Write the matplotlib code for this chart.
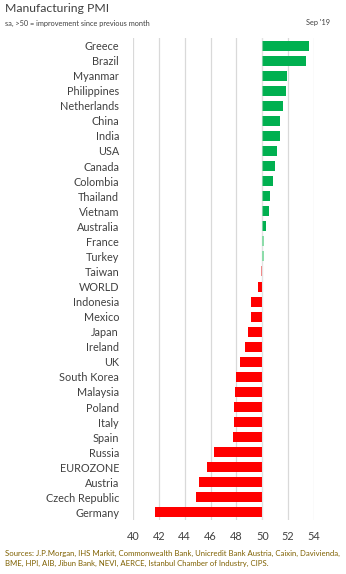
import numpy as np
import matplotlib.pyplot as plt

plt.rcParams['font.family'] = ['Lato', 'DejaVu Sans']

countries = ['Greece', 'Brazil', 'Myanmar', 'Philippines', 'Netherlands', 'China',
             'India', 'USA', 'Canada', 'Colombia', 'Thailand', 'Vietnam', 'Australia',
             'France', 'Turkey', 'Taiwan', 'WORLD', 'Indonesia', 'Mexico', 'Japan',
             'Ireland', 'UK', 'South Korea', 'Malaysia', 'Poland', 'Italy', 'Spain',
             'Russia', 'EUROZONE', 'Austria', 'Czech Republic', 'Germany']
pmi = [53.6, 53.4, 51.9, 51.8, 51.6, 51.4,
       51.4, 51.1, 51.0, 50.8, 50.6, 50.5, 50.3,
       50.15, 50.15, 49.9, 49.7, 49.1, 49.1, 48.9,
       48.7, 48.3, 48.0, 47.9, 47.8, 47.8, 47.7,
       46.3, 45.7, 45.1, 44.9, 41.7]

# the near-50 readings are drawn in pale colours
pale = {'France': '#8ddcaa', 'Turkey': '#8ddcaa', 'Taiwan': '#f08a8a'}

colors = []
for c, v in zip(countries, pmi):
    if c in pale:
        colors.append(pale[c])
    elif v >= 50:
        colors.append('#00b050')
    else:
        colors.append('#ff0000')

n = len(countries)
y = np.arange(n)
vals = np.array(pmi)
is_pale = np.array([c in pale for c in countries])

fig = plt.figure(figsize=(3.46, 5.74), dpi=100)
ax = fig.add_axes([133 / 346, 1 - 520 / 574, 181 / 346, (520 - 38) / 574])

ax.barh(y[~is_pale], vals[~is_pale] - 50, left=50, height=0.66,
        color=np.array(colors)[~is_pale], zorder=2)
ax.axvline(50, color='#eeeeee', lw=0.8, alpha=0.5, zorder=3)
ax.barh(y[is_pale], vals[is_pale] - 50, left=50, height=0.66,
        color=np.array(colors)[is_pale], zorder=4)

ax.set_xlim(40, 54)
ax.set_ylim(n - 0.5, -0.5)
ax.set_xticks(np.arange(40, 55, 2))
ax.set_yticks(y)
ax.set_yticklabels(countries)
ax.grid(axis='x', color='#d9d9d9', lw=0.9, zorder=0)
ax.set_axisbelow(True)
for s in ax.spines.values():
    s.set_visible(False)
ax.tick_params(axis='both', length=0, labelsize=7.8, colors='#404040')
ax.tick_params(axis='y', pad=10)
ax.tick_params(axis='x', pad=8)

fig.text(5 / 346, 1 - 9 / 574, 'Manufacturing PMI', fontsize=8.8, color='#404040', va='center')
fig.text(5 / 346, 1 - 23 / 574, 'sa, >50 = improvement since previous month',
         fontsize=5.3, color='#404040', va='center')
fig.text(330 / 346, 1 - 23 / 574, "Sep '19", fontsize=5.3, color='#404040',
         va='center', ha='right')
fig.text(5 / 346, 1 - 553 / 574,
         'Sources: J.P.Morgan, IHS Markit, Commonwealth Bank, Unicredit Bank Austria, Caixin, Davivienda,',
         fontsize=5.6, color='#7f6000', va='center')
fig.text(5 / 346, 1 - 563 / 574,
         'BME, HPI, AIB, Jibun Bank, NEVI, AERCE, Istanbul Chamber of Industry, CIPS.',
         fontsize=5.6, color='#7f6000', va='center')

fig.savefig('out.png', dpi=100)
